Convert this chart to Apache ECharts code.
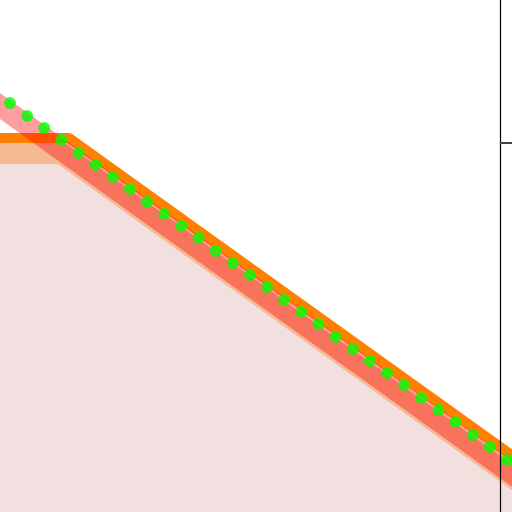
<!DOCTYPE html>
<html>
<head>
<meta charset="utf-8">
<script src="https://cdn.jsdelivr.net/npm/echarts@6/dist/echarts.min.js"></script>
<style>html,body{margin:0;padding:0;background:#fff;}#c{width:512px;height:512px;}</style>
</head>
<body>
<div id="c"></div>
<script>
// Data
var dotX = [1,2,3,4,5,6,7,8,9,10,11,12,13,14,15,16,17,18,19,20,21,22,23,24,25,26,27,28,29,30];
var dotY = [110,106.75,103.75,100.75,97.5,94.5,91.5,88.5,85.25,82.25,79.25,76.25,73,70,67,64,60.75,57.75,54.75,51.5,48.5,45.5,42.5,39.5,36.25,33.25,30.25,27,24,20.75];
var orangeX = [-1, 4.45, 33];
var orangeY = [101.25, 101.25, 13.6];
var peachX = [-1, 3.98, 33];
var peachY = [97.4, 97.4, 8.07];
var redX = [-1, 33];
var redY = [113.6, 8.95];
var yTickInterval = 100;

function pairs(xs, ys){ return xs.map(function(x,i){ return [x, ys[i]]; }); }

var chart = echarts.init(document.getElementById('c'), null, {renderer:'canvas'});
chart.setOption({
  animation: false,
  backgroundColor: '#ffffff',
  grid: {left: -24.28, right: -46.5, top: -20, bottom: -31, containLabel: false, outerBoundsMode: 'none'},
  xAxis: {type: 'value', min: -1, max: 33, show: false},
  yAxis: {
    type: 'value', position: 'right', offset: -58.5, min: 0, max: 140.75, interval: yTickInterval, z: 10,
    axisLine: {show: true, onZero: false, lineStyle: {color: '#000', width: 1.2}},
    axisTick: {show: true, length: 14, lineStyle: {color: '#444', width: 2}},
    axisLabel: {show: false},
    splitLine: {show: false}
  },
  series: [
    {type: 'line', data: pairs(peachX, peachY), symbol: 'none', z: 1,
     lineStyle: {color: '#f5b994', width: 21}, areaStyle: {color: '#f2e0e0', opacity: 1}},
    {type: 'line', data: pairs(orangeX, orangeY), symbol: 'none', z: 2,
     lineStyle: {color: '#ff8000', width: 10}},
    {type: 'line', data: pairs(redX, redY), symbol: 'none', z: 3,
     lineStyle: {color: 'rgba(255,0,0,0.38)', width: 21}},
    {type: 'scatter', data: pairs(dotX, dotY), symbol: 'circle', symbolSize: 12, z: 4,
     itemStyle: {color: '#00ff00'}}
  ]
});
</script>
</body>
</html>
